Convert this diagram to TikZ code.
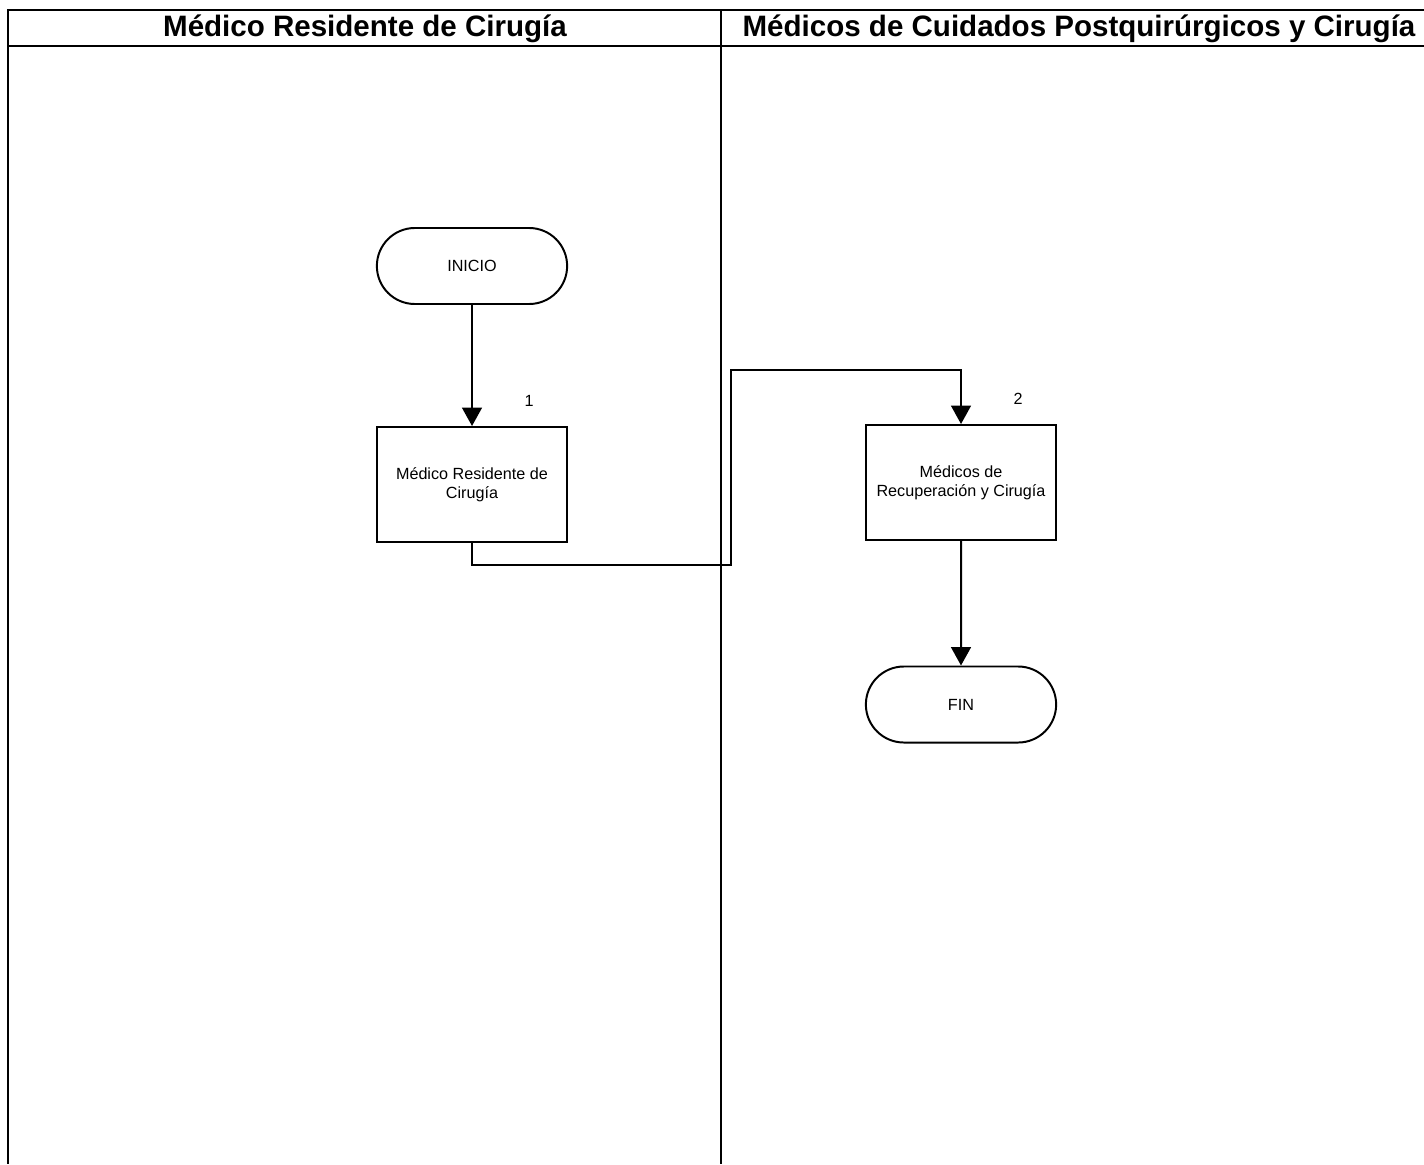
\documentclass[tikz,border=0pt]{standalone}
\usepackage{fontspec}
\setmainfont{Liberation Sans}
\usetikzlibrary{arrows.meta,shapes.misc}

\begin{document}
\begin{tikzpicture}[x=0.025cm,y=-0.025cm,>={Triangle[width=14pt,length=13pt]},
  every node/.style={font=\fontsize{11.5}{13.5}\selectfont},
  lane/.style={line width=0.8pt},
  lanehead/.style={font=\fontsize{21}{24}\selectfont\bfseries},
  terminal/.style={draw,line width=1.4pt,rounded rectangle,minimum width=4.99cm,minimum height=1.9cm},
  activity/.style={draw,line width=1.4pt,rectangle,minimum width=4.75cm,minimum height=2.875cm,align=center},
  flow/.style={->,line width=1.4pt}]
\useasboundingbox (0,0) rectangle (1424,1164);
% swimlanes
\draw[lane] (1424,10) -- (8,10) -- (8,1164);
\draw[lane] (8,46) -- (1424,46);
\draw[lane] (721,10) -- (721,1164);
\node[lanehead] (head1) at (365,29) {Médico Residente de Cirugía};
\node[lanehead] (head2) at (1079,29) {Médicos de Cuidados Postquirúrgicos y Cirugía};
% flow
\node[terminal] (inicio) at (472,266) {INICIO};
\node[activity] (act1) at (472,484.5) {Médico Residente de\\Cirugía};
\node (num1) at (529,401) {1};
\node[activity] (act2) at (961,482.5) {Médicos de\\Recuperación y Cirugía};
\node (num2) at (1018,399) {2};
\node[terminal] (fin) at (961,704.5) {FIN};
\draw[flow] (inicio) -- (act1);
\draw[flow] (act1.south) -- ++(0,22) -| (731,370) -| (act2.north);
\draw[flow] (act2) -- (fin);
\end{tikzpicture}
\end{document}
